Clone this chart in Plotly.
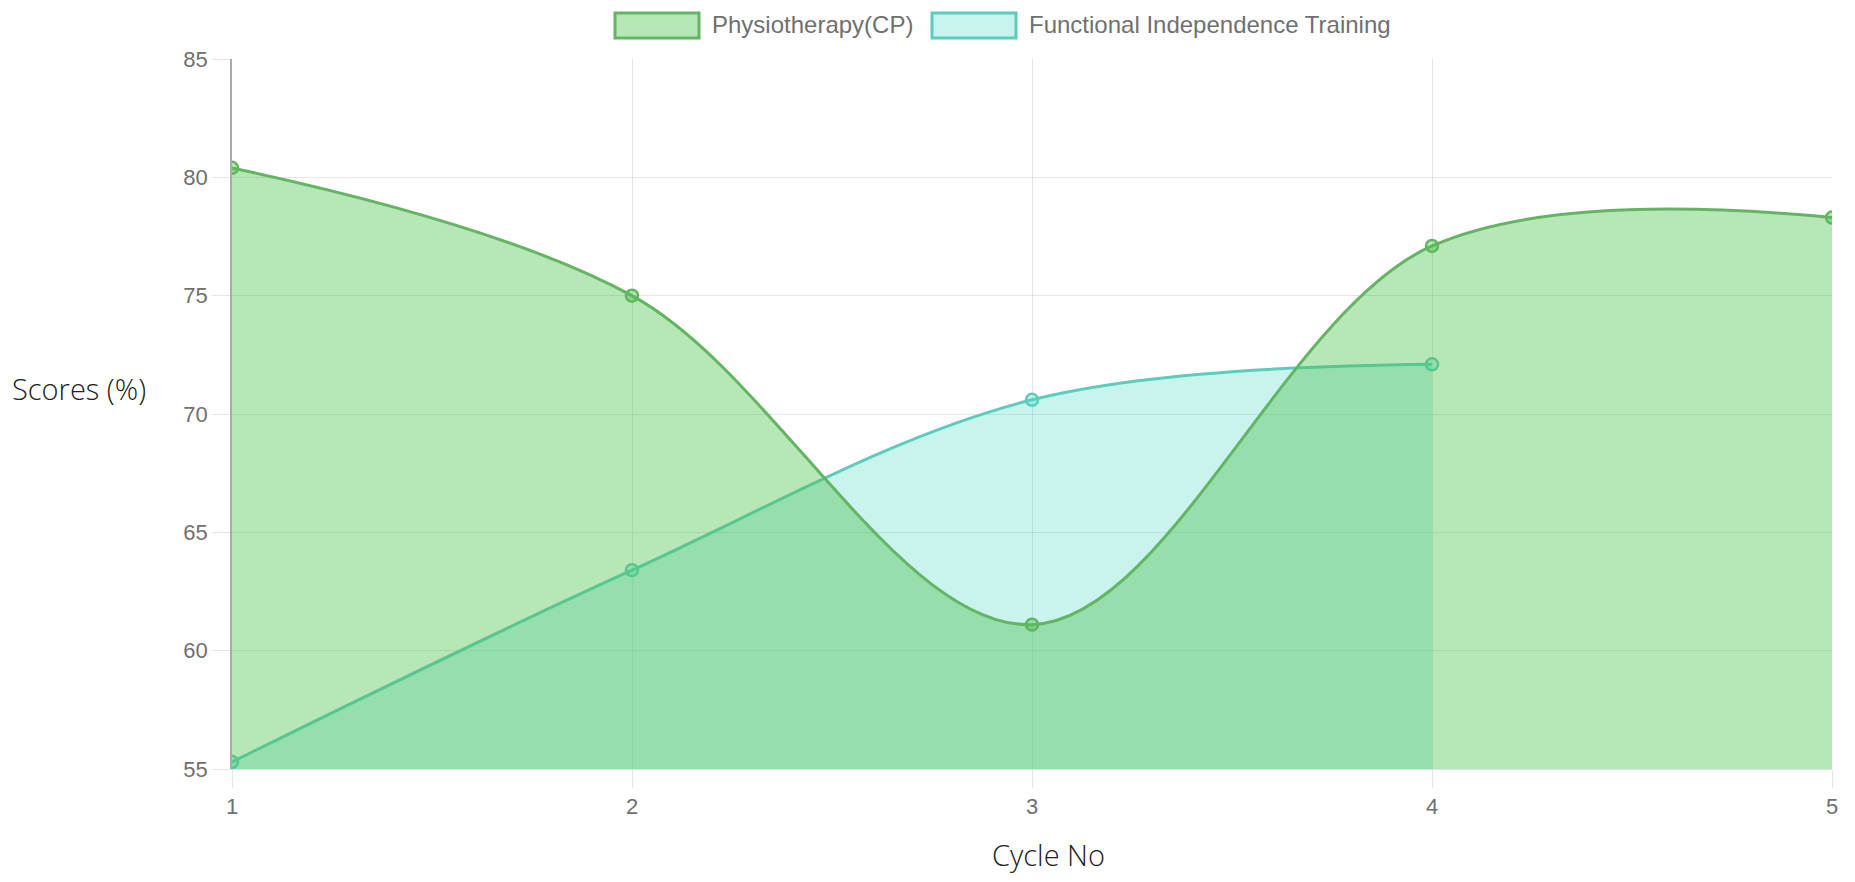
import plotly.graph_objects as go

cycles = [1, 2, 3, 4, 5]
physio = [80.4, 75.0, 61.1, 77.1, 78.3]
fit_cycles = [1, 2, 3, 4]
fit = [55.3, 63.4, 70.6, 72.1]
y_ticks = [55, 60, 65, 70, 75, 80, 85]

PHYSIO_LINE = "rgb(98,182,98)"
PHYSIO_FILL = "rgba(75,192,75,0.4)"
FIT_LINE = "rgb(92,204,188)"
FIT_FILL = "rgba(75,220,200,0.3)"

# plot area in pixels (for paper-coordinate helpers)
L, R, T, B = 232, 1832, 59, 769
def px(x):
    return (x - L) / (R - L)
def py(y):
    return (B - y) / (B - T)

fig = go.Figure()
fig.add_trace(go.Scatter(
    x=fit_cycles, y=fit, mode="lines+markers", name="Functional Independence Training",
    line=dict(color=FIT_LINE, width=3, shape="spline", smoothing=1.0),
    marker=dict(size=12, color=FIT_FILL, line=dict(color=FIT_LINE, width=2.5)),
    fill="tozeroy", fillcolor=FIT_FILL, showlegend=False))
fig.add_trace(go.Scatter(
    x=cycles, y=physio, mode="lines+markers", name="Physiotherapy(CP)",
    line=dict(color=PHYSIO_LINE, width=3, shape="spline", smoothing=1.0),
    marker=dict(size=12, color=PHYSIO_FILL, line=dict(color=PHYSIO_LINE, width=2.5)),
    fill="tozeroy", fillcolor=PHYSIO_FILL, showlegend=False))

tick_font = dict(family="Arial, Liberation Sans, sans-serif", size=22, color="#707070")
legend_font = dict(family="Arial, Liberation Sans, sans-serif", size=24, color="#707070")
title_font = dict(family="Open Sans, sans-serif", size=29, color="#222222", weight=300)

fig.update_xaxes(range=[1, 5], tickvals=cycles, ticktext=[str(c) for c in cycles],
                 showgrid=True, gridcolor="rgba(0,0,0,0.1)", gridwidth=1,
                 ticks="outside", ticklen=18, tickcolor="rgba(0,0,0,0.1)",
                 showline=True, linecolor="rgba(0,0,0,0.12)", linewidth=1,
                 zeroline=False, tickfont=tick_font)
fig.update_yaxes(range=[55, 85], tickvals=y_ticks, ticktext=[str(v) for v in y_ticks],
                 showgrid=True, gridcolor="rgba(0,0,0,0.1)", gridwidth=1,
                 ticks="outside", ticklen=18, tickcolor="rgba(0,0,0,0.1)",
                 showline=True, linecolor="#aaaaaa", linewidth=1.5,
                 zeroline=False, tickfont=tick_font)

legend_items = [
    ("Physiotherapy(CP)", PHYSIO_FILL, PHYSIO_LINE, 615, 699, 710),
    ("Functional Independence Training", FIT_FILL, FIT_LINE, 932, 1016, 1027),
]
shapes = []
annotations = []
for label, fillc, linec, x0, x1, tx in legend_items:
    shapes.append(dict(type="rect", xref="paper", yref="paper",
                       x0=px(x0), x1=px(x1), y0=py(38), y1=py(13),
                       fillcolor=fillc, line=dict(color=linec, width=3)))
    annotations.append(dict(text=label, xref="paper", yref="paper",
                            x=px(tx), y=py(24), xanchor="left", yanchor="middle",
                            showarrow=False, font=legend_font))

annotations.append(dict(text="Scores (%)", xref="paper", yref="paper",
                        x=px(10), y=py(388), xanchor="left", yanchor="middle",
                        showarrow=False, font=title_font))
annotations.append(dict(text="Cycle No", xref="paper", yref="paper",
                        x=px(1048), y=py(854), xanchor="center", yanchor="middle",
                        showarrow=False, font=title_font))

fig.update_layout(
    width=1855, height=882,
    margin=dict(l=L, r=1855 - R, t=T, b=882 - B, pad=0),
    paper_bgcolor="white", plot_bgcolor="white",
    shapes=shapes, annotations=annotations, showlegend=False,
)

fig.write_html("out.html", config={"displayModeBar": False},
               post_script="document.body.style.margin='0';document.body.style.overflow='hidden';")
